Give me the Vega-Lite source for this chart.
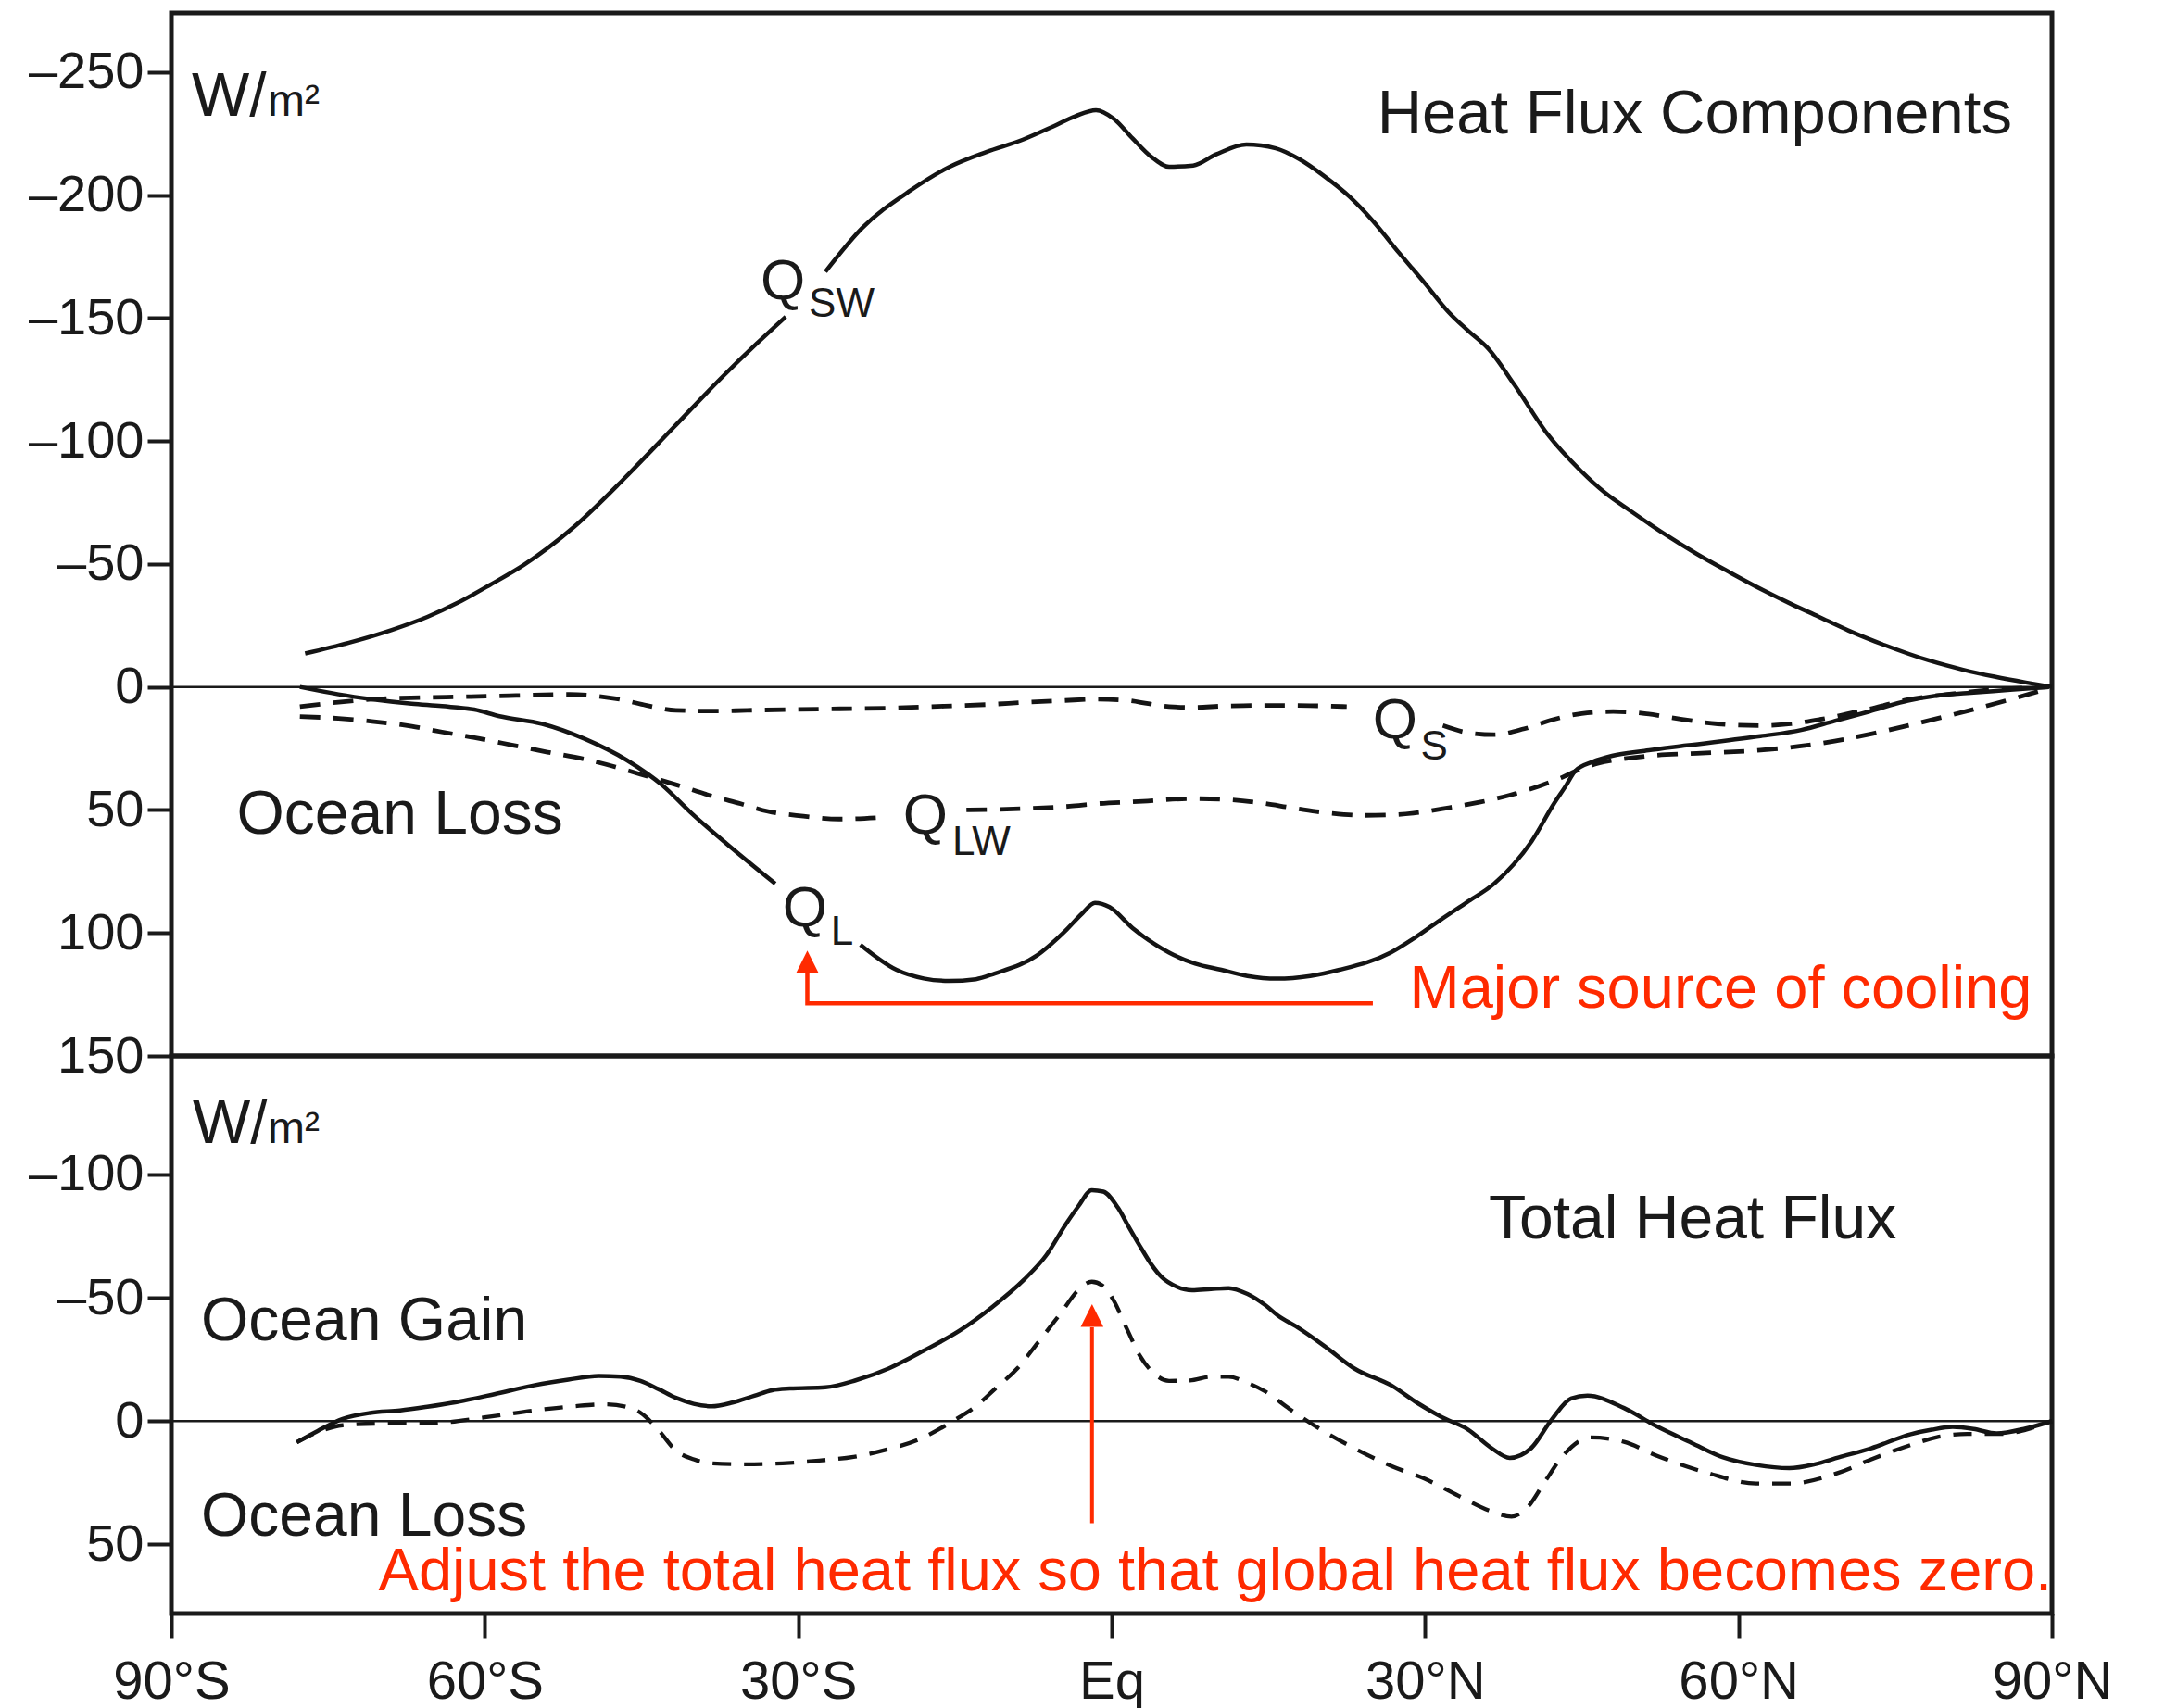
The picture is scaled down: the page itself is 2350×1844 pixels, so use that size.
{
  "$schema": "https://vega.github.io/schema/vega-lite/v6.json",
  "background": "white",
  "padding": {"left": 27, "top": 11, "right": 10, "bottom": 5},
  "spacing": 0,
  "bounds": "flush",
  "config": {
    "view": {"stroke": "#1a1a1a", "strokeWidth": 5},
    "axis": {"domain": false, "grid": false, "ticks": true, "tickColor": "#1a1a1a", "tickWidth": 4, "tickSize": 26, "labelFont": "Liberation Sans", "labelFontSize": 56, "labelColor": "#1a1a1a", "labelOverlap": false, "labelFlush": false, "title": null},
    "text": {"font": "Liberation Sans"}
  },
  "datasets": {
    "top": [
      {"s":"QSW","g":"QSW-a","lat":-77.2,"v":-13.6},{"s":"QSW","g":"QSW-a","lat":-73,"v":-18},{"s":"QSW","g":"QSW-a","lat":-68.9,"v":-23.2},{"s":"QSW","g":"QSW-a","lat":-65.5,"v":-28.5},{"s":"QSW","g":"QSW-a","lat":-62.56,"v":-34.3},{"s":"QSW","g":"QSW-a","lat":-59.5,"v":-41.5},{"s":"QSW","g":"QSW-a","lat":-56.23,"v":-49.7},{"s":"QSW","g":"QSW-a","lat":-51.48,"v":-65},{"s":"QSW","g":"QSW-a","lat":-46.73,"v":-84.4},{"s":"QSW","g":"QSW-a","lat":-41.98,"v":-105.3},{"s":"QSW","g":"QSW-a","lat":-37.23,"v":-126.2},{"s":"QSW","g":"QSW-a","lat":-34,"v":-139.5},{"s":"QSW","g":"QSW-a","lat":-31.2,"v":-150.5},
      {"s":"QSW","g":"QSW-b","lat":-27.4,"v":-168.8},{"s":"QSW","g":"QSW-b","lat":-23.9,"v":-186.5},{"s":"QSW","g":"QSW-b","lat":-19.2,"v":-202},{"s":"QSW","g":"QSW-b","lat":-15.5,"v":-211.5},{"s":"QSW","g":"QSW-b","lat":-12,"v":-217.5},{"s":"QSW","g":"QSW-b","lat":-8.5,"v":-222.5},{"s":"QSW","g":"QSW-b","lat":-5.8,"v":-227.5},{"s":"QSW","g":"QSW-b","lat":-3.5,"v":-232},{"s":"QSW","g":"QSW-b","lat":-1.5,"v":-234.5},{"s":"QSW","g":"QSW-b","lat":0.2,"v":-231},{"s":"QSW","g":"QSW-b","lat":2,"v":-223},{"s":"QSW","g":"QSW-b","lat":3.8,"v":-215.5},{"s":"QSW","g":"QSW-b","lat":5.5,"v":-211.5},{"s":"QSW","g":"QSW-b","lat":7.8,"v":-212},{"s":"QSW","g":"QSW-b","lat":10,"v":-216.5},{"s":"QSW","g":"QSW-b","lat":12.9,"v":-220.5},{"s":"QSW","g":"QSW-b","lat":15.7,"v":-219},{"s":"QSW","g":"QSW-b","lat":18,"v":-214.5},{"s":"QSW","g":"QSW-b","lat":20.4,"v":-207.5},{"s":"QSW","g":"QSW-b","lat":22.75,"v":-199.4},{"s":"QSW","g":"QSW-b","lat":25,"v":-189.5},{"s":"QSW","g":"QSW-b","lat":27.5,"v":-176.5},{"s":"QSW","g":"QSW-b","lat":30,"v":-164},{"s":"QSW","g":"QSW-b","lat":32.25,"v":-152.4},{"s":"QSW","g":"QSW-b","lat":34.2,"v":-144.5},{"s":"QSW","g":"QSW-b","lat":36.05,"v":-137.5},{"s":"QSW","g":"QSW-b","lat":38.57,"v":-122.7},{"s":"QSW","g":"QSW-b","lat":41.75,"v":-102.6},{"s":"QSW","g":"QSW-b","lat":44.92,"v":-87.8},{"s":"QSW","g":"QSW-b","lat":47.2,"v":-79},{"s":"QSW","g":"QSW-b","lat":49.65,"v":-71.6},{"s":"QSW","g":"QSW-b","lat":52.8,"v":-62.5},{"s":"QSW","g":"QSW-b","lat":56,"v":-54.1},{"s":"QSW","g":"QSW-b","lat":59.2,"v":-46.5},{"s":"QSW","g":"QSW-b","lat":62.33,"v":-39.4},{"s":"QSW","g":"QSW-b","lat":65,"v":-33.8},{"s":"QSW","g":"QSW-b","lat":67.66,"v":-28.6},{"s":"QSW","g":"QSW-b","lat":70.5,"v":-23},{"s":"QSW","g":"QSW-b","lat":74,"v":-17},{"s":"QSW","g":"QSW-b","lat":78.2,"v":-10.8},{"s":"QSW","g":"QSW-b","lat":81.5,"v":-7},{"s":"QSW","g":"QSW-b","lat":84.5,"v":-4.2},{"s":"QSW","g":"QSW-b","lat":87.5,"v":-1.8},{"s":"QSW","g":"QSW-b","lat":90,"v":0},
      {"s":"QL","g":"QL-a","lat":-77.7,"v":0},{"s":"QL","g":"QL-a","lat":-74,"v":3},{"s":"QL","g":"QL-a","lat":-70.8,"v":5},{"s":"QL","g":"QL-a","lat":-67,"v":6.8},{"s":"QL","g":"QL-a","lat":-64.1,"v":7.8},{"s":"QL","g":"QL-a","lat":-61,"v":9.2},{"s":"QL","g":"QL-a","lat":-58.6,"v":11.9},{"s":"QL","g":"QL-a","lat":-54.5,"v":15},{"s":"QL","g":"QL-a","lat":-50.5,"v":21},{"s":"QL","g":"QL-a","lat":-46.4,"v":29.8},{"s":"QL","g":"QL-a","lat":-43,"v":40},{"s":"QL","g":"QL-a","lat":-40.3,"v":51},{"s":"QL","g":"QL-a","lat":-36.9,"v":63.6},{"s":"QL","g":"QL-a","lat":-32.2,"v":80},
      {"s":"QL","g":"QL-b","lat":-24.05,"v":104.8},{"s":"QL","g":"QL-b","lat":-20.6,"v":115},{"s":"QL","g":"QL-b","lat":-18,"v":118.5},{"s":"QL","g":"QL-b","lat":-15.6,"v":119.5},{"s":"QL","g":"QL-b","lat":-13,"v":118.8},{"s":"QL","g":"QL-b","lat":-11.2,"v":116.5},{"s":"QL","g":"QL-b","lat":-7.1,"v":109},{"s":"QL","g":"QL-b","lat":-4.4,"v":99},{"s":"QL","g":"QL-b","lat":-2.8,"v":92},{"s":"QL","g":"QL-b","lat":-1.6,"v":87.8},{"s":"QL","g":"QL-b","lat":-0.2,"v":89.5},{"s":"QL","g":"QL-b","lat":2,"v":98},{"s":"QL","g":"QL-b","lat":5.5,"v":108},{"s":"QL","g":"QL-b","lat":8,"v":112.5},{"s":"QL","g":"QL-b","lat":10.5,"v":115},{"s":"QL","g":"QL-b","lat":13,"v":117.5},{"s":"QL","g":"QL-b","lat":15.8,"v":118.6},{"s":"QL","g":"QL-b","lat":19,"v":117.5},{"s":"QL","g":"QL-b","lat":21.8,"v":115},{"s":"QL","g":"QL-b","lat":26.7,"v":108},{"s":"QL","g":"QL-b","lat":29,"v":102},{"s":"QL","g":"QL-b","lat":31.7,"v":94},{"s":"QL","g":"QL-b","lat":34,"v":87.5},{"s":"QL","g":"QL-b","lat":36.6,"v":80},{"s":"QL","g":"QL-b","lat":38.5,"v":72},{"s":"QL","g":"QL-b","lat":40.2,"v":62.7},{"s":"QL","g":"QL-b","lat":42.3,"v":47.7},{"s":"QL","g":"QL-b","lat":43.5,"v":40},{"s":"QL","g":"QL-b","lat":44.4,"v":34},{"s":"QL","g":"QL-b","lat":46,"v":30.5},{"s":"QL","g":"QL-b","lat":47.9,"v":28},{"s":"QL","g":"QL-b","lat":51,"v":26},{"s":"QL","g":"QL-b","lat":55,"v":23.8},{"s":"QL","g":"QL-b","lat":62.1,"v":20},{"s":"QL","g":"QL-b","lat":66,"v":17.5},{"s":"QL","g":"QL-b","lat":69.2,"v":13.8},{"s":"QL","g":"QL-b","lat":72.5,"v":10},{"s":"QL","g":"QL-b","lat":76.2,"v":5.6},{"s":"QL","g":"QL-b","lat":79,"v":3.5},{"s":"QL","g":"QL-b","lat":81.9,"v":2.5},{"s":"QL","g":"QL-b","lat":86,"v":1.2},{"s":"QL","g":"QL-b","lat":89.7,"v":0},
      {"s":"QLW","g":"QLW-a","lat":-77.7,"v":12},{"s":"QLW","g":"QLW-a","lat":-74,"v":12.8},{"s":"QLW","g":"QLW-a","lat":-70.8,"v":14},{"s":"QLW","g":"QLW-a","lat":-67,"v":16},{"s":"QLW","g":"QLW-a","lat":-64.1,"v":18.3},{"s":"QLW","g":"QLW-a","lat":-60.5,"v":21},{"s":"QLW","g":"QLW-a","lat":-57.3,"v":23.7},{"s":"QLW","g":"QLW-a","lat":-54,"v":26.5},{"s":"QLW","g":"QLW-a","lat":-50.5,"v":29.3},{"s":"QLW","g":"QLW-a","lat":-47.5,"v":32.5},{"s":"QLW","g":"QLW-a","lat":-45.1,"v":35.5},{"s":"QLW","g":"QLW-a","lat":-41.5,"v":40},{"s":"QLW","g":"QLW-a","lat":-38.3,"v":44.3},{"s":"QLW","g":"QLW-a","lat":-35.5,"v":47.5},{"s":"QLW","g":"QLW-a","lat":-32.9,"v":50.6},{"s":"QLW","g":"QLW-a","lat":-29.5,"v":52.5},{"s":"QLW","g":"QLW-a","lat":-26.1,"v":53.7},{"s":"QLW","g":"QLW-a","lat":-22,"v":53},
      {"s":"QLW","g":"QLW-b","lat":-13.9,"v":50},{"s":"QLW","g":"QLW-b","lat":-8.6,"v":49.5},{"s":"QLW","g":"QLW-b","lat":-4,"v":48.5},{"s":"QLW","g":"QLW-b","lat":-1.5,"v":47.5},{"s":"QLW","g":"QLW-b","lat":3,"v":46.5},{"s":"QLW","g":"QLW-b","lat":7.7,"v":45.4},{"s":"QLW","g":"QLW-b","lat":11,"v":45.8},{"s":"QLW","g":"QLW-b","lat":14,"v":47},{"s":"QLW","g":"QLW-b","lat":17.5,"v":49.3},{"s":"QLW","g":"QLW-b","lat":21.1,"v":51.4},{"s":"QLW","g":"QLW-b","lat":24,"v":52.2},{"s":"QLW","g":"QLW-b","lat":26.8,"v":52},{"s":"QLW","g":"QLW-b","lat":29.5,"v":51},{"s":"QLW","g":"QLW-b","lat":32.4,"v":49},{"s":"QLW","g":"QLW-b","lat":35.3,"v":46.8},{"s":"QLW","g":"QLW-b","lat":38.1,"v":44},{"s":"QLW","g":"QLW-b","lat":40.8,"v":40.5},{"s":"QLW","g":"QLW-b","lat":43,"v":37},{"s":"QLW","g":"QLW-b","lat":44.8,"v":33.5},{"s":"QLW","g":"QLW-b","lat":46.6,"v":31},{"s":"QLW","g":"QLW-b","lat":48.9,"v":29.3},{"s":"QLW","g":"QLW-b","lat":51.5,"v":28},{"s":"QLW","g":"QLW-b","lat":56,"v":27},{"s":"QLW","g":"QLW-b","lat":62.1,"v":25.7},{"s":"QLW","g":"QLW-b","lat":66,"v":24},{"s":"QLW","g":"QLW-b","lat":69.2,"v":22},{"s":"QLW","g":"QLW-b","lat":72.8,"v":19},{"s":"QLW","g":"QLW-b","lat":76.2,"v":15.7},{"s":"QLW","g":"QLW-b","lat":80,"v":11.8},{"s":"QLW","g":"QLW-b","lat":83.3,"v":8.2},{"s":"QLW","g":"QLW-b","lat":86.5,"v":4.5},{"s":"QLW","g":"QLW-b","lat":89.7,"v":0.6},
      {"s":"QS","g":"QS-a","lat":-77.7,"v":8},{"s":"QS","g":"QS-a","lat":-74,"v":6.2},{"s":"QS","g":"QS-a","lat":-70.8,"v":5},{"s":"QS","g":"QS-a","lat":-66,"v":4.3},{"s":"QS","g":"QS-a","lat":-62.1,"v":4},{"s":"QS","g":"QS-a","lat":-57,"v":3.5},{"s":"QS","g":"QS-a","lat":-51.9,"v":3},{"s":"QS","g":"QS-a","lat":-49.5,"v":3.6},{"s":"QS","g":"QS-a","lat":-47.1,"v":5},{"s":"QS","g":"QS-a","lat":-44.5,"v":7.5},{"s":"QS","g":"QS-a","lat":-41.7,"v":9.5},{"s":"QS","g":"QS-a","lat":-38,"v":9.8},{"s":"QS","g":"QS-a","lat":-34.9,"v":9.5},{"s":"QS","g":"QS-a","lat":-28,"v":9},{"s":"QS","g":"QS-a","lat":-21.4,"v":8.6},{"s":"QS","g":"QS-a","lat":-16,"v":7.8},{"s":"QS","g":"QS-a","lat":-11.2,"v":7},{"s":"QS","g":"QS-a","lat":-8.6,"v":6.3},{"s":"QS","g":"QS-a","lat":-4.5,"v":5.5},{"s":"QS","g":"QS-a","lat":-1.5,"v":5},{"s":"QS","g":"QS-a","lat":1.5,"v":5.5},{"s":"QS","g":"QS-a","lat":3.5,"v":6.8},{"s":"QS","g":"QS-a","lat":5.5,"v":8},{"s":"QS","g":"QS-a","lat":8,"v":8.3},{"s":"QS","g":"QS-a","lat":10.5,"v":7.8},{"s":"QS","g":"QS-a","lat":12.6,"v":7.6},{"s":"QS","g":"QS-a","lat":15.5,"v":7.5},{"s":"QS","g":"QS-a","lat":19,"v":7.6},{"s":"QS","g":"QS-a","lat":22.5,"v":8},
      {"s":"QS","g":"QS-b","lat":31.7,"v":15.7},{"s":"QS","g":"QS-b","lat":34,"v":18.5},{"s":"QS","g":"QS-b","lat":36.6,"v":19.4},{"s":"QS","g":"QS-b","lat":39.5,"v":17},{"s":"QS","g":"QS-b","lat":42.3,"v":13.2},{"s":"QS","g":"QS-b","lat":45,"v":10.8},{"s":"QS","g":"QS-b","lat":48,"v":10},{"s":"QS","g":"QS-b","lat":51,"v":10.8},{"s":"QS","g":"QS-b","lat":53.6,"v":12.5},{"s":"QS","g":"QS-b","lat":58,"v":15},{"s":"QS","g":"QS-b","lat":62.1,"v":15.7},{"s":"QS","g":"QS-b","lat":65,"v":15},{"s":"QS","g":"QS-b","lat":67.8,"v":13.2},{"s":"QS","g":"QS-b","lat":72,"v":9.5},{"s":"QS","g":"QS-b","lat":76.2,"v":5.2},{"s":"QS","g":"QS-b","lat":80,"v":3},{"s":"QS","g":"QS-b","lat":83.3,"v":1.5},{"s":"QS","g":"QS-b","lat":89.7,"v":0}
    ],
    "bottom": [
      {"s":"total","lat":-78,"v":8.6},{"s":"total","lat":-76,"v":4},{"s":"total","lat":-73.6,"v":-0.9},{"s":"total","lat":-71,"v":-3.3},{"s":"total","lat":-68.1,"v":-4.3},{"s":"total","lat":-65.5,"v":-5.8},{"s":"total","lat":-62.7,"v":-7.7},{"s":"total","lat":-59,"v":-11},{"s":"total","lat":-55.3,"v":-14.5},{"s":"total","lat":-52,"v":-16.8},{"s":"total","lat":-49.1,"v":-18.3},{"s":"total","lat":-47,"v":-18},{"s":"total","lat":-45.1,"v":-16.3},{"s":"total","lat":-43.4,"v":-13},{"s":"total","lat":-41.7,"v":-9.4},{"s":"total","lat":-40,"v":-7},{"s":"total","lat":-38.3,"v":-6},{"s":"total","lat":-36.3,"v":-7.5},{"s":"total","lat":-34.2,"v":-10.3},{"s":"total","lat":-32.5,"v":-12.5},{"s":"total","lat":-30.8,"v":-13.2},{"s":"total","lat":-27.4,"v":-13.7},{"s":"total","lat":-24.5,"v":-16.5},{"s":"total","lat":-21.3,"v":-21.4},{"s":"total","lat":-18,"v":-28.5},{"s":"total","lat":-14.5,"v":-36.8},{"s":"total","lat":-11.5,"v":-46},{"s":"total","lat":-8.4,"v":-57.3},{"s":"total","lat":-6.3,"v":-67},{"s":"total","lat":-4.4,"v":-79.7},{"s":"total","lat":-3.2,"v":-87},{"s":"total","lat":-1.9,"v":-93.6},{"s":"total","lat":-0.8,"v":-93},{"s":"total","lat":0.6,"v":-86.5},{"s":"total","lat":1.6,"v":-79},{"s":"total","lat":2.7,"v":-71},{"s":"total","lat":3.8,"v":-63.5},{"s":"total","lat":4.8,"v":-58.3},{"s":"total","lat":6.2,"v":-54.5},{"s":"total","lat":7.7,"v":-53},{"s":"total","lat":9.5,"v":-53.5},{"s":"total","lat":11.2,"v":-53.9},{"s":"total","lat":13,"v":-51.5},{"s":"total","lat":14.7,"v":-47},{"s":"total","lat":16,"v":-42.5},{"s":"total","lat":17.6,"v":-38.5},{"s":"total","lat":20.5,"v":-30},{"s":"total","lat":23.2,"v":-21.4},{"s":"total","lat":26.9,"v":-14.1},{"s":"total","lat":29.2,"v":-7.5},{"s":"total","lat":31.6,"v":-1.6},{"s":"total","lat":34.1,"v":3.4},{"s":"total","lat":36.35,"v":10.9},{"s":"total","lat":38.1,"v":14.9},{"s":"total","lat":40.17,"v":10.9},{"s":"total","lat":42.07,"v":-0.3},{"s":"total","lat":43.97,"v":-9.1},{"s":"total","lat":45.55,"v":-10.3},{"s":"total","lat":49.04,"v":-5.3},{"s":"total","lat":52.2,"v":2.2},{"s":"total","lat":55.5,"v":8.8},{"s":"total","lat":58.53,"v":14.7},{"s":"total","lat":61.7,"v":17.8},{"s":"total","lat":64.87,"v":19.1},{"s":"total","lat":67.3,"v":17.5},{"s":"total","lat":69.6,"v":14.7},{"s":"total","lat":72.7,"v":11},{"s":"total","lat":76.5,"v":5.3},{"s":"total","lat":78.5,"v":3.5},{"s":"total","lat":80.5,"v":2.4},{"s":"total","lat":82.5,"v":3.2},{"s":"total","lat":84.7,"v":5},{"s":"total","lat":87.5,"v":3},{"s":"total","lat":90,"v":0},
      {"s":"adjusted","lat":-78,"v":8.6},{"s":"adjusted","lat":-76,"v":4.5},{"s":"adjusted","lat":-73.6,"v":1.7},{"s":"adjusted","lat":-70,"v":1},{"s":"adjusted","lat":-65.3,"v":0.9},{"s":"adjusted","lat":-60,"v":-1.5},{"s":"adjusted","lat":-55.3,"v":-4.3},{"s":"adjusted","lat":-51.5,"v":-6},{"s":"adjusted","lat":-48.5,"v":-6.8},{"s":"adjusted","lat":-46.5,"v":-5.8},{"s":"adjusted","lat":-45.1,"v":-3.4},{"s":"adjusted","lat":-43.5,"v":3},{"s":"adjusted","lat":-41.7,"v":12},{"s":"adjusted","lat":-40,"v":15.5},{"s":"adjusted","lat":-38.3,"v":17.1},{"s":"adjusted","lat":-35,"v":17.5},{"s":"adjusted","lat":-31.5,"v":17.1},{"s":"adjusted","lat":-28,"v":16},{"s":"adjusted","lat":-24.7,"v":14.5},{"s":"adjusted","lat":-21.5,"v":11.5},{"s":"adjusted","lat":-18.6,"v":7.7},{"s":"adjusted","lat":-15.2,"v":0},{"s":"adjusted","lat":-13,"v":-6},{"s":"adjusted","lat":-11.2,"v":-12.9},{"s":"adjusted","lat":-9,"v":-21.5},{"s":"adjusted","lat":-7.1,"v":-31.6},{"s":"adjusted","lat":-5,"v":-43},{"s":"adjusted","lat":-3,"v":-53.9},{"s":"adjusted","lat":-1.9,"v":-56.5},{"s":"adjusted","lat":-0.9,"v":-55},{"s":"adjusted","lat":0.2,"v":-48.8},{"s":"adjusted","lat":1.5,"v":-37},{"s":"adjusted","lat":2.7,"v":-26.5},{"s":"adjusted","lat":4,"v":-19.5},{"s":"adjusted","lat":5.5,"v":-16.3},{"s":"adjusted","lat":7.5,"v":-16.5},{"s":"adjusted","lat":9.5,"v":-18},{"s":"adjusted","lat":11.2,"v":-18},{"s":"adjusted","lat":13,"v":-15.5},{"s":"adjusted","lat":14.7,"v":-12},{"s":"adjusted","lat":17,"v":-5},{"s":"adjusted","lat":19.7,"v":2.6},{"s":"adjusted","lat":23,"v":10.5},{"s":"adjusted","lat":26.87,"v":18.4},{"s":"adjusted","lat":30.03,"v":23.5},{"s":"adjusted","lat":33.2,"v":30.3},{"s":"adjusted","lat":36.35,"v":36.6},{"s":"adjusted","lat":38.27,"v":38.7},{"s":"adjusted","lat":39.85,"v":34.7},{"s":"adjusted","lat":41.44,"v":24.7},{"s":"adjusted","lat":43.33,"v":13.4},{"s":"adjusted","lat":45.87,"v":6.6},{"s":"adjusted","lat":49.04,"v":8.4},{"s":"adjusted","lat":52.2,"v":14.1},{"s":"adjusted","lat":56.95,"v":20.9},{"s":"adjusted","lat":61.7,"v":25.3},{"s":"adjusted","lat":64.87,"v":25.3},{"s":"adjusted","lat":69.6,"v":20.9},{"s":"adjusted","lat":73,"v":15},{"s":"adjusted","lat":76.5,"v":9.7},{"s":"adjusted","lat":79,"v":6.5},{"s":"adjusted","lat":81.9,"v":5.2},{"s":"adjusted","lat":85.4,"v":5.2},{"s":"adjusted","lat":87.5,"v":3.5},{"s":"adjusted","lat":90,"v":0}
    ],
    "ttext": [
      {"k":"big","t":"W/","lat":-88.05,"v":-232.2},
      {"k":"big","t":"Ocean Loss","lat":-83.75,"v":59.6},
      {"k":"q","t":"Q","lat":-33.6,"v":-157.6},
      {"k":"q","t":"Q","lat":-19.98,"v":59.6},
      {"k":"q","t":"Q","lat":-31.51,"v":97.3},
      {"k":"q","t":"Q","lat":24.98,"v":20.8},
      {"k":"unit","t":"m²","lat":-80.78,"v":-232.2},
      {"k":"sub","t":"SW","lat":-28.99,"v":-150.5},
      {"k":"sub","t":"LW","lat":-15.25,"v":68.3},
      {"k":"sub","t":"L","lat":-26.9,"v":104.8},
      {"k":"sub","t":"S","lat":29.57,"v":29.5},
      {"k":"title","t":"Heat Flux Components","lat":86.18,"v":-225.05},
      {"k":"note","t":"Major source of cooling","lat":28.51,"v":130.5}
    ],
    "btext": [
      {"k":"big","t":"W/","lat":-87.96,"v":-112.8},
      {"k":"big","t":"Total Heat Flux","lat":36.09,"v":-74},
      {"k":"big","t":"Ocean Gain","lat":-87.16,"v":-32.9},
      {"k":"big","t":"Ocean Loss","lat":-87.16,"v":46.5},
      {"k":"unit","t":"m²","lat":-80.78,"v":-112.8},
      {"k":"note","t":"Adjust the total heat flux so that global heat flux becomes zero.","lat":-70.18,"v":68.8}
    ]
  },
  "vconcat": [
    {
      "width": 2030,
      "height": 1126,
      "layer": [
        {
          "data": {"values": [{"v": 0}]},
          "mark": {"type": "rule", "color": "#1a1a1a", "strokeWidth": 2.5},
          "encoding": {
            "y": {"field": "v", "type": "quantitative",
              "scale": {"domain": [-274, 150], "reverse": true, "nice": false, "zero": false},
              "axis": {"values": [-250, -200, -150, -100, -50, 0, 50, 100, 150], "labelPadding": 4,
                "labelExpr": "datum.value < 0 ? '–' + abs(datum.value) : '' + datum.value"}}
          }
        },
        {
          "data": {"name": "top"},
          "transform": [{"filter": {"field": "s", "oneOf": ["QSW", "QL"]}}],
          "mark": {"type": "line", "color": "#141414", "strokeWidth": 4.5, "interpolate": "monotone"},
          "encoding": {
            "x": {"field": "lat", "type": "quantitative", "scale": {"domain": [-90, 90], "nice": false, "zero": false}, "axis": null},
            "y": {"field": "v", "type": "quantitative"},
            "detail": {"field": "g"}
          }
        },
        {
          "data": {"name": "top"},
          "transform": [{"filter": {"field": "s", "oneOf": ["QLW", "QS"]}}],
          "mark": {"type": "line", "color": "#141414", "strokeWidth": 4.8, "strokeDash": [22, 14], "interpolate": "monotone"},
          "encoding": {
            "x": {"field": "lat", "type": "quantitative", "axis": null},
            "y": {"field": "v", "type": "quantitative"},
            "detail": {"field": "g"}
          }
        },
        {
          "data": {"values": [{"o": 1, "lat": 25.0, "v": 128.6}, {"o": 2, "lat": -29.13, "v": 128.6}, {"o": 3, "lat": -29.13, "v": 115}]},
          "mark": {"type": "line", "color": "#ff2a00", "strokeWidth": 4.5, "strokeJoin": "miter"},
          "encoding": {
            "x": {"field": "lat", "type": "quantitative", "axis": null},
            "y": {"field": "v", "type": "quantitative"},
            "order": {"field": "o"}
          }
        },
        {
          "data": {"values": [{"lat": -29.13, "v": 111.7}]},
          "mark": {"type": "point", "shape": "M-1,1L0,-1L1,1Z", "size": 576, "filled": true, "color": "#ff2a00", "opacity": 1, "strokeWidth": 0},
          "encoding": {
            "x": {"field": "lat", "type": "quantitative", "axis": null},
            "y": {"field": "v", "type": "quantitative"}
          }
        },
        {
          "data": {"name": "ttext"},
          "transform": [{"filter": "datum.k == 'big'"}],
          "mark": {"type": "text", "align": "left", "baseline": "alphabetic", "fontSize": 66, "color": "#1a1a1a"},
          "encoding": {"x": {"field": "lat", "type": "quantitative", "axis": null}, "y": {"field": "v", "type": "quantitative"}, "text": {"field": "t"}}
        },
        {
          "data": {"name": "ttext"},
          "transform": [{"filter": "datum.k == 'q'"}],
          "mark": {"type": "text", "align": "left", "baseline": "alphabetic", "fontSize": 62, "color": "#1a1a1a"},
          "encoding": {"x": {"field": "lat", "type": "quantitative", "axis": null}, "y": {"field": "v", "type": "quantitative"}, "text": {"field": "t"}}
        },
        {
          "data": {"name": "ttext"},
          "transform": [{"filter": "datum.k == 'unit'"}],
          "mark": {"type": "text", "align": "left", "baseline": "alphabetic", "fontSize": 48, "color": "#1a1a1a"},
          "encoding": {"x": {"field": "lat", "type": "quantitative", "axis": null}, "y": {"field": "v", "type": "quantitative"}, "text": {"field": "t"}}
        },
        {
          "data": {"name": "ttext"},
          "transform": [{"filter": "datum.k == 'sub'"}],
          "mark": {"type": "text", "align": "left", "baseline": "alphabetic", "fontSize": 44, "color": "#1a1a1a"},
          "encoding": {"x": {"field": "lat", "type": "quantitative", "axis": null}, "y": {"field": "v", "type": "quantitative"}, "text": {"field": "t"}}
        },
        {
          "data": {"name": "ttext"},
          "transform": [{"filter": "datum.k == 'title'"}],
          "mark": {"type": "text", "align": "right", "baseline": "alphabetic", "fontSize": 67, "color": "#1a1a1a"},
          "encoding": {"x": {"field": "lat", "type": "quantitative", "axis": null}, "y": {"field": "v", "type": "quantitative"}, "text": {"field": "t"}}
        },
        {
          "data": {"name": "ttext"},
          "transform": [{"filter": "datum.k == 'note'"}],
          "mark": {"type": "text", "align": "left", "baseline": "alphabetic", "fontSize": 65, "color": "#ff2a00"},
          "encoding": {"x": {"field": "lat", "type": "quantitative", "axis": null}, "y": {"field": "v", "type": "quantitative"}, "text": {"field": "t"}}
        }
      ]
    },
    {
      "width": 2030,
      "height": 602,
      "layer": [
        {
          "data": {"values": [{"v": 0}]},
          "mark": {"type": "rule", "color": "#1a1a1a", "strokeWidth": 2.5},
          "encoding": {
            "y": {"field": "v", "type": "quantitative",
              "scale": {"domain": [-148, 78], "reverse": true, "nice": false, "zero": false},
              "axis": {"values": [-100, -50, 0, 50], "labelPadding": 4,
                "labelExpr": "datum.value < 0 ? '–' + abs(datum.value) : '' + datum.value"}}
          }
        },
        {
          "data": {"name": "bottom"},
          "transform": [{"filter": "datum.s == 'total'"}],
          "mark": {"type": "line", "color": "#141414", "strokeWidth": 4.5, "interpolate": "monotone"},
          "encoding": {
            "x": {"field": "lat", "type": "quantitative", "scale": {"domain": [-90, 90], "nice": false, "zero": false},
              "axis": {"values": [-90, -60, -30, 0, 30, 60, 90], "labelPadding": 19, "labelFontSize": 58,
                "labelExpr": "datum.value == 0 ? 'Eq' : (datum.value < 0 ? abs(datum.value) + '°S' : datum.value + '°N')"}},
            "y": {"field": "v", "type": "quantitative"}
          }
        },
        {
          "data": {"name": "bottom"},
          "transform": [{"filter": "datum.s == 'adjusted'"}],
          "mark": {"type": "line", "color": "#141414", "strokeWidth": 4.3, "strokeDash": [20, 14], "interpolate": "monotone"},
          "encoding": {
            "x": {"field": "lat", "type": "quantitative"},
            "y": {"field": "v", "type": "quantitative"}
          }
        },
        {
          "data": {"values": [{"o": 1, "lat": -1.88, "v": 41.4}, {"o": 2, "lat": -1.88, "v": -38}]},
          "mark": {"type": "line", "color": "#ff2a00", "strokeWidth": 4},
          "encoding": {
            "x": {"field": "lat", "type": "quantitative"},
            "y": {"field": "v", "type": "quantitative"},
            "order": {"field": "o"}
          }
        },
        {
          "data": {"values": [{"lat": -1.88, "v": -42.8}]},
          "mark": {"type": "point", "shape": "M-1,1L0,-1L1,1Z", "size": 600, "filled": true, "color": "#ff2a00", "opacity": 1, "strokeWidth": 0},
          "encoding": {
            "x": {"field": "lat", "type": "quantitative"},
            "y": {"field": "v", "type": "quantitative"}
          }
        },
        {
          "data": {"name": "btext"},
          "transform": [{"filter": "datum.k == 'big'"}],
          "mark": {"type": "text", "align": "left", "baseline": "alphabetic", "fontSize": 66, "color": "#1a1a1a"},
          "encoding": {"x": {"field": "lat", "type": "quantitative"}, "y": {"field": "v", "type": "quantitative"}, "text": {"field": "t"}}
        },
        {
          "data": {"name": "btext"},
          "transform": [{"filter": "datum.k == 'unit'"}],
          "mark": {"type": "text", "align": "left", "baseline": "alphabetic", "fontSize": 48, "color": "#1a1a1a"},
          "encoding": {"x": {"field": "lat", "type": "quantitative"}, "y": {"field": "v", "type": "quantitative"}, "text": {"field": "t"}}
        },
        {
          "data": {"name": "btext"},
          "transform": [{"filter": "datum.k == 'note'"}],
          "mark": {"type": "text", "align": "left", "baseline": "alphabetic", "fontSize": 65, "color": "#ff2a00"},
          "encoding": {"x": {"field": "lat", "type": "quantitative"}, "y": {"field": "v", "type": "quantitative"}, "text": {"field": "t"}}
        }
      ]
    }
  ]
}
